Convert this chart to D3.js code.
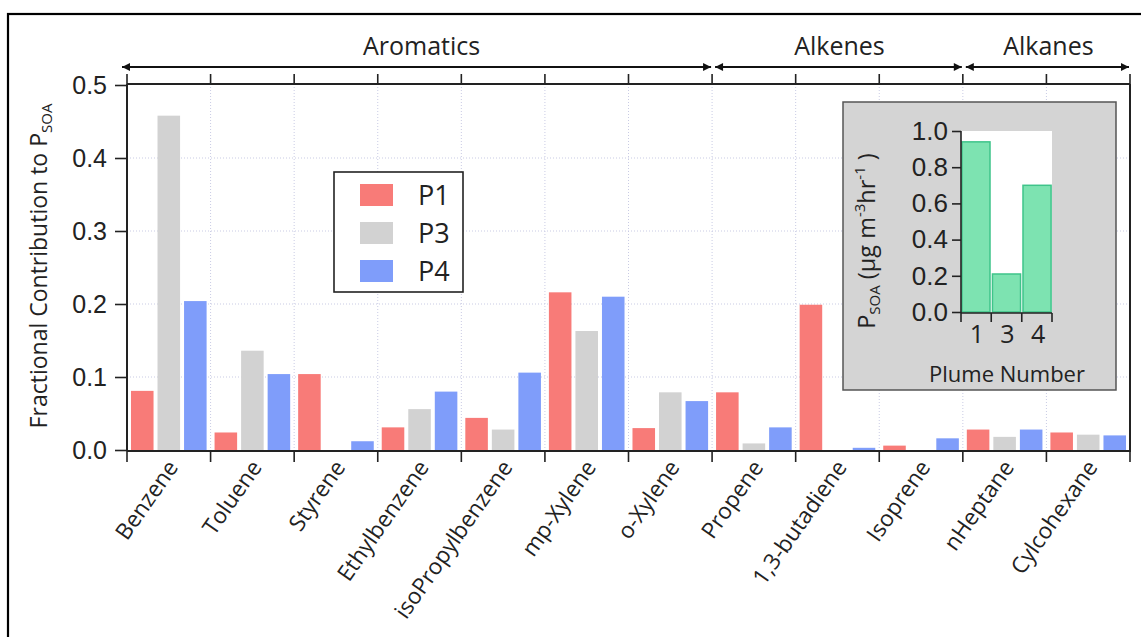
<!DOCTYPE html>
<html>
<head>
<meta charset="utf-8">
<script src="https://cdn.jsdelivr.net/npm/d3@7"></script>
<style>
  body { margin: 0; background: #fff; }
  svg { font-family: "Open Sans", sans-serif; }
</style>
</head>
<body>
<div id="chart"></div>
<script>
var categories = ["Benzene", "Toluene", "Styrene", "Ethylbenzene", "isoPropylbenzene", "mp-Xylene",
  "o-Xylene", "Propene", "1,3-butadiene", "Isoprene", "nHeptane", "Cylcohexane"];
var seriesNames = ["P1", "P3", "P4"];
var p1 = [0.081, 0.024, 0.104, 0.031, 0.044, 0.216, 0.030, 0.079, 0.199, 0.006, 0.028, 0.024];
var p3 = [0.458, 0.136, 0.000, 0.056, 0.028, 0.163, 0.079, 0.009, 0.000, 0.000, 0.018, 0.021];
var p4 = [0.204, 0.104, 0.012, 0.080, 0.106, 0.210, 0.067, 0.031, 0.003, 0.016, 0.028, 0.020];
var groups = ["Aromatics", "Alkenes", "Alkanes"];
var groupSizes = [7, 3, 2];
var yTicks = [0, 0.1, 0.2, 0.3, 0.4, 0.5];

var plumes = ["1", "3", "4"];
var plumeRates = [0.94, 0.21, 0.70];
var insetTicks = [0, 0.2, 0.4, 0.6, 0.8, 1.0];

var colors = {P1: "#f87b78", P3: "#d2d2d2", P4: "#7f9dfa"};

var W = 1141, H = 637,
  pLeft = 127, pRight = 1130, pTop = 84, zeroY = 450, bottomAxis = 451;

var data = categories.map(function(c, i) {
  return {cat: c, P1: p1[i], P3: p3[i], P4: p4[i]};
});

var svg = d3.select("#chart").append("svg")
  .attr("width", W).attr("height", H);

svg.append("rect").attr("width", W).attr("height", H).attr("fill", "#fff");
svg.append("rect")
  .attr("x", 8).attr("y", 14).attr("width", W + 10).attr("height", H + 10)
  .attr("fill", "none").attr("stroke", "#000").attr("stroke-width", 2.2);

var x = d3.scaleBand().domain(categories).range([pLeft, pRight]).padding(0);
var xs = d3.scaleBand().domain(seriesNames).range([0, x.bandwidth()])
  .paddingInner(0.15).paddingOuter(0.15);
var y = d3.scaleLinear().domain([0, 0.5]).range([zeroY, pTop + 1]);

// grid
var grid = svg.append("g").attr("stroke", "#c9cbe4").attr("stroke-width", 1)
  .attr("stroke-dasharray", "1,2");
grid.selectAll(".hg").data(yTicks.slice(1, -1)).enter().append("line")
  .attr("x1", pLeft).attr("x2", pRight)
  .attr("y1", function(d) { return y(d); }).attr("y2", function(d) { return y(d); });
grid.selectAll(".vg").data(categories.slice(1)).enter().append("line")
  .attr("x1", function(d) { return x(d); }).attr("x2", function(d) { return x(d); })
  .attr("y1", pTop).attr("y2", bottomAxis);

// bars
var cat = svg.selectAll(".cat").data(data).enter().append("g")
  .attr("transform", function(d) { return "translate(" + x(d.cat) + ",0)"; });
cat.selectAll("rect")
  .data(function(d) { return seriesNames.map(function(s) { return {key: s, value: d[s]}; }); })
  .enter().append("rect")
  .attr("x", function(d) { return xs(d.key); })
  .attr("width", xs.bandwidth())
  .attr("y", function(d) { return y(d.value); })
  .attr("height", function(d) { return y(0) - y(d.value); })
  .attr("fill", function(d) { return colors[d.key]; });

// axes
var edges = categories.map(function(c) { return x(c); }).concat([pRight]);

svg.append("g")
  .attr("transform", "translate(" + pLeft + ",0)")
  .style("font-size", "25px")
  .call(d3.axisLeft(y).tickValues(yTicks).tickFormat(d3.format(".1f")).tickSize(12).tickPadding(8).tickSizeOuter(0))
  .call(function(g) {
    g.select(".domain").remove();
    g.selectAll("line").attr("stroke", "#222").attr("stroke-width", 1.6);
    g.selectAll("text").attr("fill", "#222");
  });

var frame = svg.append("g").attr("stroke", "#222").attr("stroke-width", 2);
frame.append("line").attr("x1", pLeft).attr("x2", pLeft).attr("y1", pTop).attr("y2", bottomAxis);
frame.append("line").attr("x1", pRight).attr("x2", pRight).attr("y1", pTop).attr("y2", bottomAxis);
frame.append("line").attr("x1", pLeft).attr("x2", pRight).attr("y1", pTop).attr("y2", pTop);
frame.append("line").attr("x1", pLeft).attr("x2", pRight + 1).attr("y1", bottomAxis).attr("y2", bottomAxis);
frame.selectAll(".tt").data(edges).enter().append("line")
  .attr("x1", function(d) { return d; }).attr("x2", function(d) { return d; })
  .attr("y1", pTop).attr("y2", pTop - 10).attr("stroke-width", 1.6);
frame.selectAll(".bt").data(edges).enter().append("line")
  .attr("x1", function(d) { return d; }).attr("x2", function(d) { return d; })
  .attr("y1", bottomAxis).attr("y2", bottomAxis + 11).attr("stroke-width", 1.6);

// rotated category labels
svg.append("g").selectAll("text").data(categories).enter().append("text")
  .attr("transform", function(d) {
    return "translate(" + (x(d) + x.bandwidth() / 2 - 3) + "," + (bottomAxis + 7) + ") rotate(-55)";
  })
  .attr("text-anchor", "end")
  .attr("dy", "0.72em")
  .attr("font-size", "22.5px")
  .attr("fill", "#222")
  .text(function(d) { return d; });

// y title
var yt = svg.append("text")
  .attr("transform", "translate(47,266) rotate(-90)")
  .attr("text-anchor", "middle")
  .attr("font-size", "23px")
  .attr("fill", "#222");
yt.append("tspan").text("Fractional Contribution to P");
yt.append("tspan").attr("font-size", "15px").attr("dy", 5).text("SOA");

// group arrows
var defs = svg.append("defs");
defs.append("marker").attr("id", "ah").attr("viewBox", "0 0 10 10")
  .attr("refX", 10).attr("refY", 5).attr("markerWidth", 10).attr("markerHeight", 8)
  .attr("markerUnits", "userSpaceOnUse").attr("orient", "auto-start-reverse")
  .append("path").attr("d", "M0,0L10,5L0,10z").attr("fill", "#111");

var start = 0, gData = [];
groups.forEach(function(g, i) {
  var x0 = x(categories[start]),
    x1 = start + groupSizes[i] < categories.length ? x(categories[start + groupSizes[i]]) : pRight;
  gData.push({name: g, x0: x0, x1: x1});
  start += groupSizes[i];
});
var ga = svg.append("g");
ga.selectAll("line").data(gData).enter().append("line")
  .attr("x1", function(d, i) { return d.x0 + (i === 0 ? -5 : 3); })
  .attr("x2", function(d) { return d.x1 - 1; })
  .attr("y1", 67).attr("y2", 67)
  .attr("stroke", "#111").attr("stroke-width", 2)
  .attr("marker-start", "url(#ah)").attr("marker-end", "url(#ah)");
ga.selectAll("text").data(gData).enter().append("text")
  .attr("x", function(d) { return (d.x0 + d.x1) / 2 + 2; })
  .attr("y", 55)
  .attr("text-anchor", "middle")
  .attr("font-size", "25px")
  .attr("fill", "#222")
  .text(function(d) { return d.name; });

// legend
var lg = svg.append("g").attr("transform", "translate(334,172)");
lg.append("rect").attr("width", 129).attr("height", 120)
  .attr("fill", "#fff").attr("stroke", "#222").attr("stroke-width", 1.6);
var li = lg.selectAll(".li").data(seriesNames).enter().append("g")
  .attr("transform", function(d, i) { return "translate(26," + (12 + i * 38) + ")"; });
li.append("rect").attr("width", 33).attr("height", 22)
  .attr("fill", function(d) { return colors[d]; });
li.append("text").attr("x", 58).attr("y", 11).attr("dy", "0.36em")
  .attr("font-size", "27px").attr("fill", "#222")
  .text(function(d) { return d; });

// inset
var inset = svg.append("g");
inset.append("rect").attr("x", 843).attr("y", 102).attr("width", 273).attr("height", 288)
  .attr("fill", "#d4d4d4").attr("stroke", "#555").attr("stroke-width", 1.5);
var ix = d3.scaleBand().domain(plumes).range([961, 1052]).paddingInner(0.08).paddingOuter(0.03);
var iy = d3.scaleLinear().domain([0, 1]).range([312, 131]);
inset.append("rect").attr("x", 961).attr("y", iy(1)).attr("width", 91).attr("height", iy(0) - iy(1))
  .attr("fill", "#fff");
inset.selectAll(".ib").data(plumes).enter().append("rect")
  .attr("x", function(d) { return ix(d); })
  .attr("width", ix.bandwidth())
  .attr("y", function(d, i) { return iy(plumeRates[i]); })
  .attr("height", function(d, i) { return iy(0) - iy(plumeRates[i]); })
  .attr("fill", "#7de3b1").attr("stroke", "#3fc48a").attr("stroke-width", 1.5);

inset.append("g")
  .attr("transform", "translate(961,0)")
  .style("font-size", "26px")
  .call(d3.axisLeft(iy).tickValues(insetTicks).tickFormat(d3.format(".1f")).tickSize(9).tickPadding(4).tickSizeOuter(0))
  .call(function(g) {
    g.select(".domain").attr("stroke", "#222").attr("stroke-width", 1.6)
      .attr("d", "M0," + iy(1) + "V" + (iy(0) + 1));
    g.selectAll("line").attr("stroke", "#222").attr("stroke-width", 1.6);
    g.selectAll("text").attr("fill", "#222");
  });
var iEdges = plumes.map(function(p) { return ix(p) - ix.step() * ix.paddingInner() / 2; });
iEdges[0] = 961; iEdges.push(1052);
inset.append("line").attr("x1", 961).attr("x2", 1052).attr("y1", 313).attr("y2", 313)
  .attr("stroke", "#222").attr("stroke-width", 1.6);
inset.selectAll(".it").data(iEdges).enter().append("line")
  .attr("x1", function(d) { return d; }).attr("x2", function(d) { return d; })
  .attr("y1", 313).attr("y2", 322).attr("stroke", "#222").attr("stroke-width", 1.6);
inset.selectAll(".il").data(plumes).enter().append("text")
  .attr("x", function(d) { return ix(d) + ix.bandwidth() / 2 + 1; })
  .attr("y", 343).attr("text-anchor", "middle")
  .attr("font-size", "25px").attr("fill", "#222")
  .text(function(d) { return d; });
inset.append("text").attr("x", 1007).attr("y", 382).attr("text-anchor", "middle")
  .attr("font-size", "22px").attr("fill", "#222").text("Plume Number");

var iyt = inset.append("text")
  .attr("transform", "translate(875,241) rotate(-90)")
  .attr("text-anchor", "middle")
  .attr("font-size", "23.5px")
  .attr("fill", "#222");
iyt.append("tspan").text("P");
iyt.append("tspan").attr("font-size", "15px").attr("dy", 5).text("SOA");
iyt.append("tspan").attr("dy", -5).text(" (µg m");
iyt.append("tspan").attr("font-size", "15px").attr("dy", -10).text("-3");
iyt.append("tspan").attr("dy", 10).text("hr");
iyt.append("tspan").attr("font-size", "15px").attr("dy", -10).text("-1");
iyt.append("tspan").attr("dy", 10).text(" )");
</script>
</body>
</html>
